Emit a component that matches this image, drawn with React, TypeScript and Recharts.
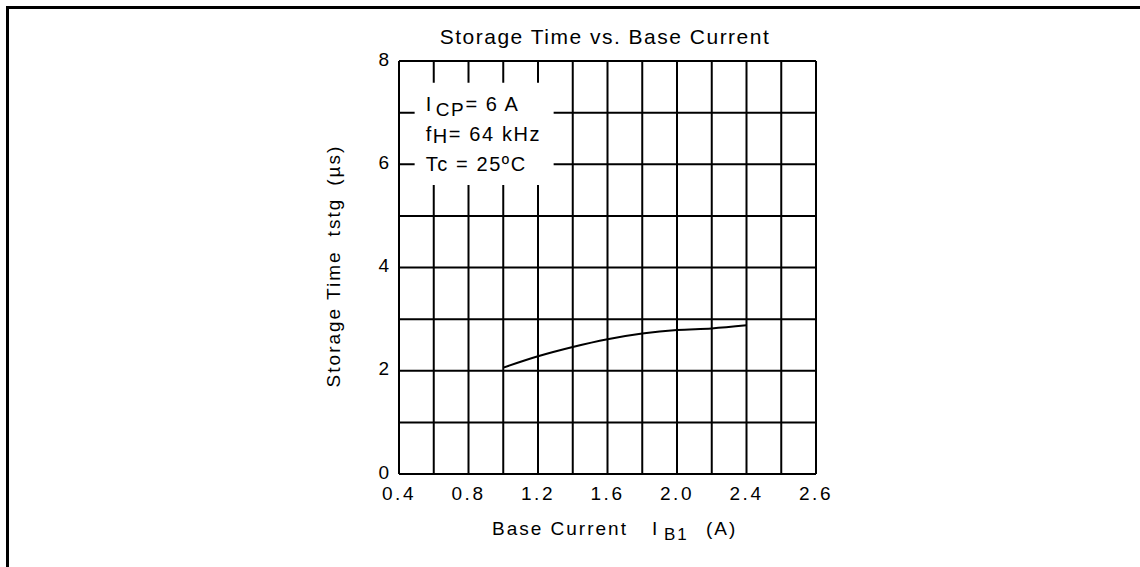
import React from 'react'
import {
  LineChart, Line, XAxis, YAxis, CartesianGrid, ReferenceArea
} from 'recharts'

// base current IB1 (A) vs storage time tstg (us)
const baseCurrent = [1.0, 1.2, 1.4, 1.6, 1.8, 2.0, 2.2, 2.4]
const storageTime = [2.06, 2.28, 2.46, 2.61, 2.72, 2.79, 2.82, 2.88]

const xTicks = [0.4, 0.8, 1.2, 1.6, 2.0, 2.4, 2.8]
const xTickLabels = ['0.4', '0.8', '1.2', '1.6', '2.0', '2.4', '2.6']
const xGrid = [0.4, 0.6, 0.8, 1.0, 1.2, 1.4, 1.6, 1.8, 2.0, 2.2, 2.4, 2.6, 2.8]
const yTicks = [0, 2, 4, 6, 8]
const yGrid = [0, 1, 2, 3, 4, 5, 6, 7, 8]

// condition box, in data units
const boxX = [0.49, 1.29]
const boxY = [5.6, 7.58]

const data = baseCurrent.map((x, i) => ({ x, t: storageTime[i] }))

const FONT = '"Liberation Sans", Arial, sans-serif'

const renderConditions = (props: any) => {
  const { x, y } = props.viewBox
  const tx = x + 11
  return (
    <g fontFamily={FONT} fontSize={20} fill="#000" letterSpacing={1.6}>
      <text x={tx} y={y + 28}>
        I<tspan dx={3} dy={5} fontSize={19}>CP</tspan>
        <tspan dy={-5}>= 6 A</tspan>
      </text>
      <text x={tx} y={y + 58}>
        f<tspan dy={2}>H</tspan><tspan dy={-2}>= 64 kHz</tspan>
      </text>
      <text x={tx} y={y + 88}>Tc = 25ºC</text>
    </g>
  )
}

const YTick = (props: any) => (
  <text
    x={props.x} y={props.y - 2} dy="0.35em"
    textAnchor="end" fontFamily={FONT} fontSize={19} fill="#000"
  >
    {props.payload.value}
  </text>
)

const renderXLabel = () => (
  <text y={535} fontFamily={FONT} fontSize={19} fill="#000" letterSpacing={2}>
    <tspan x={492}>Base Current</tspan>
    <tspan x={652}>I</tspan>
    <tspan x={664} y={540} fontSize={17}>B1</tspan>
    <tspan x={706} y={535}>(A)</tspan>
  </text>
)

const renderYLabel = () => (
  <text
    x={340} y={266}
    transform="rotate(-90, 340, 266)"
    textAnchor="middle"
    fontFamily={FONT} fontSize={19} fill="#000" letterSpacing={2}
  >
    Storage Time<tspan dx={14}>tstg</tspan><tspan dx={12}>(µs)</tspan>
  </text>
)

export default function App() {
  return (
    <div style={{ position: 'absolute', left: 0, top: 0, width: 1140, height: 567, background: '#fff' }}>
      <div style={{ position: 'absolute', left: 6, top: 6, width: 1134, height: 3, background: '#000' }} />
      <div style={{ position: 'absolute', left: 6, top: 6, width: 3, height: 561, background: '#000' }} />
      <div style={{
        position: 'absolute', left: 355, top: 26, width: 500, height: 22,
        lineHeight: '22px', fontSize: 21, fontFamily: FONT, textAlign: 'center',
        color: '#000', letterSpacing: 1.5
      }}>
        Storage Time vs. Base Current
      </div>
      <LineChart
        width={1140}
        height={567}
        data={data}
        margin={{ top: 61, right: 324, bottom: 53, left: 329 }}
        style={{ fontFamily: FONT }}
      >
        <CartesianGrid
          stroke="#000"
          strokeWidth={2}
          verticalValues={xGrid}
          horizontalValues={yGrid}
        />
        <XAxis
          dataKey="x"
          type="number"
          domain={[0.4, 2.8]}
          ticks={xTicks}
          tickFormatter={(_v: number, i: number) => xTickLabels[i]}
          axisLine={false}
          tickLine={false}
          tickMargin={7}
          height={40}
          tick={{ fontSize: 19, fill: '#000', letterSpacing: 2.5 }}
          label={renderXLabel}
          interval={0}
        />
        <YAxis
          type="number"
          domain={[0, 8]}
          ticks={yTicks}
          axisLine={false}
          tickLine={false}
          tickMargin={4}
          width={70}
          tick={<YTick />}
          label={renderYLabel}
          interval={0}
        />
        <ReferenceArea
          x1={boxX[0]} x2={boxX[1]} y1={boxY[0]} y2={boxY[1]}
          fill="#fff" fillOpacity={1} stroke="none"
          label={renderConditions}
        />
        <Line
          type="monotone"
          dataKey="t"
          stroke="#000"
          strokeWidth={2}
          dot={false}
          isAnimationActive={false}
        />
      </LineChart>
    </div>
  )
}
